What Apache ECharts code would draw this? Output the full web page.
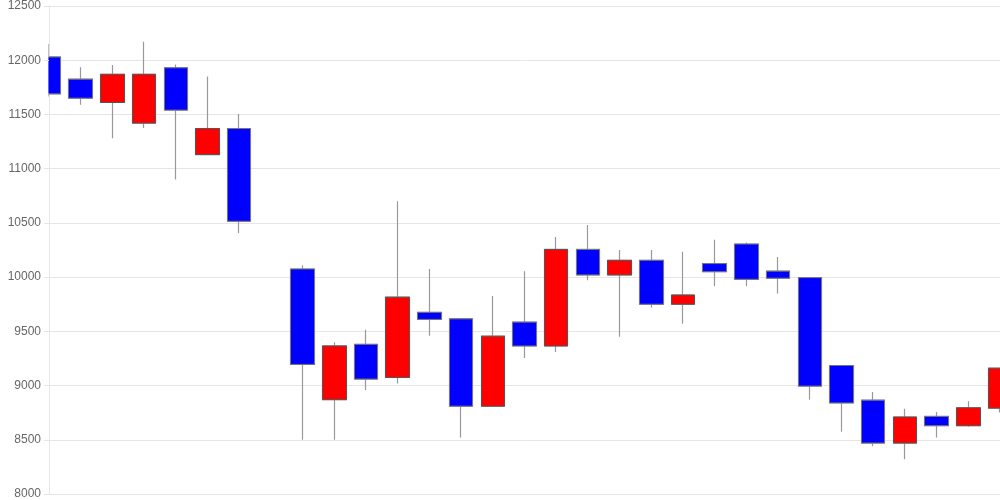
<!DOCTYPE html>
<html>
<head>
<meta charset="utf-8">
<script src="https://cdn.jsdelivr.net/npm/echarts@6/dist/echarts.min.js"></script>
<style>
  html, body { margin: 0; padding: 0; background: #fff; }
  #chart { width: 1000px; height: 500px; }
</style>
</head>
<body>
<div id="chart"></div>
<script>
// daily candles, index 7 is a day with no trading
const days = ['1', '2', '3', '4', '5', '6', '7', '8', '9', '10', '11', '12', '13', '14', '15', '16',
  '17', '18', '19', '20', '21', '22', '23', '24', '25', '26', '27', '28', '29', '30', '31'];
const opens = [12030, 11825, 11610, 11420, 11930, 11130, 11370, '-', 10075, 8870, 9380, 9075, 9675, 9615, 8810, 9585,
  9365, 10255, 10020, 10155, 9750, 10125, 10305, 10055, 9995, 9185, 8865, 8470, 8715, 8630, 8792];
const closes = [11690, 11650, 11870, 11870, 11540, 11370, 10515, '-', 9195, 9365, 9060, 9815, 9610, 8810, 9455, 9365,
  10255, 10020, 10155, 9750, 9835, 10050, 9980, 9990, 8995, 8840, 8470, 8710, 8630, 8795, 9160];
const lows = [11665, 11590, 11280, 11375, 10900, 11130, 10405, '-', 8500, 8500, 8960, 9020, 9460, 8520, 8810, 9255,
  9310, 9970, 9450, 9720, 9570, 9915, 9915, 9850, 8870, 8575, 8440, 8320, 8520, 8620, 8752];
const highs = [12150, 11935, 11955, 12170, 11960, 11850, 11505, '-', 10110, 9400, 9515, 10700, 10075, 9615, 9825, 10055,
  10370, 10480, 10250, 10250, 10235, 10345, 10320, 10185, 9995, 9185, 8940, 8785, 8755, 8855, 9160];

// full candles (used for the wicks) and bodies only (low/high = body edges)
const candles = days.map((d, i) => [opens[i], closes[i], lows[i], highs[i]]);
const bodies = days.map((d, i) => opens[i] === '-' ? ['-', '-', '-', '-'] :
  [opens[i], closes[i], Math.min(opens[i], closes[i]), Math.max(opens[i], closes[i])]);

const yMin = 8000, yMax = 12500, yStep = 500;

let myChart = echarts.init(document.getElementById('chart'), null, { renderer: 'canvas' });
let option = {
  animation: false,
  grid: { left: 49, right: 0, top: 6, bottom: 6 },
  // white strip left of the plot so the first candle is cut at the axis
  graphic: [{
    type: 'rect',
    z: 10,
    shape: { x: 0, y: 0, width: 48.4, height: 500 },
    style: { fill: '#fff' }
  }],
  xAxis: {
    type: 'category',
    data: days,
    boundaryGap: false,
    axisLine: { lineStyle: { color: '#e6e6e6' } },
    axisTick: { show: false },
    axisLabel: { show: false },
    splitLine: { show: false }
  },
  yAxis: [
    {
      type: 'value',
      min: yMin, max: yMax, interval: yStep,
      axisLine: { show: true, lineStyle: { color: '#e6e6e6' } },
      axisTick: { show: false },
      axisLabel: { show: false },
      splitLine: { lineStyle: { color: '#e6e6e6' } }
    },
    {
      type: 'value',
      position: 'left',
      z: 20,
      min: yMin, max: yMax, interval: yStep,
      axisLine: { show: false },
      axisTick: { show: true, length: 5, lineStyle: { color: '#e6e6e6' } },
      axisLabel: {
        color: '#666', fontSize: 12, margin: 8,
        fontFamily: 'Arial, "Liberation Sans", sans-serif',
        formatter: (v) => String(v)
      },
      splitLine: { show: false }
    }
  ],
  series: [
    {
      type: 'candlestick',
      data: candles,
      barWidth: 24,
      z: 2,
      itemStyle: {
        color: 'rgba(0,0,0,0)',
        color0: 'rgba(0,0,0,0)',
        borderColor: '#999',
        borderColor0: '#999',
        borderWidth: 1.2
      }
    },
    {
      type: 'candlestick',
      data: bodies,
      barWidth: 24,
      z: 3,
      itemStyle: {
        color: '#ff0000',
        color0: '#0000ff',
        borderColor: '#555',
        borderColor0: '#777',
        borderWidth: 1
      }
    }
  ]
};
myChart.setOption(option);
window.addEventListener('resize', myChart.resize);
</script>
</body>
</html>
